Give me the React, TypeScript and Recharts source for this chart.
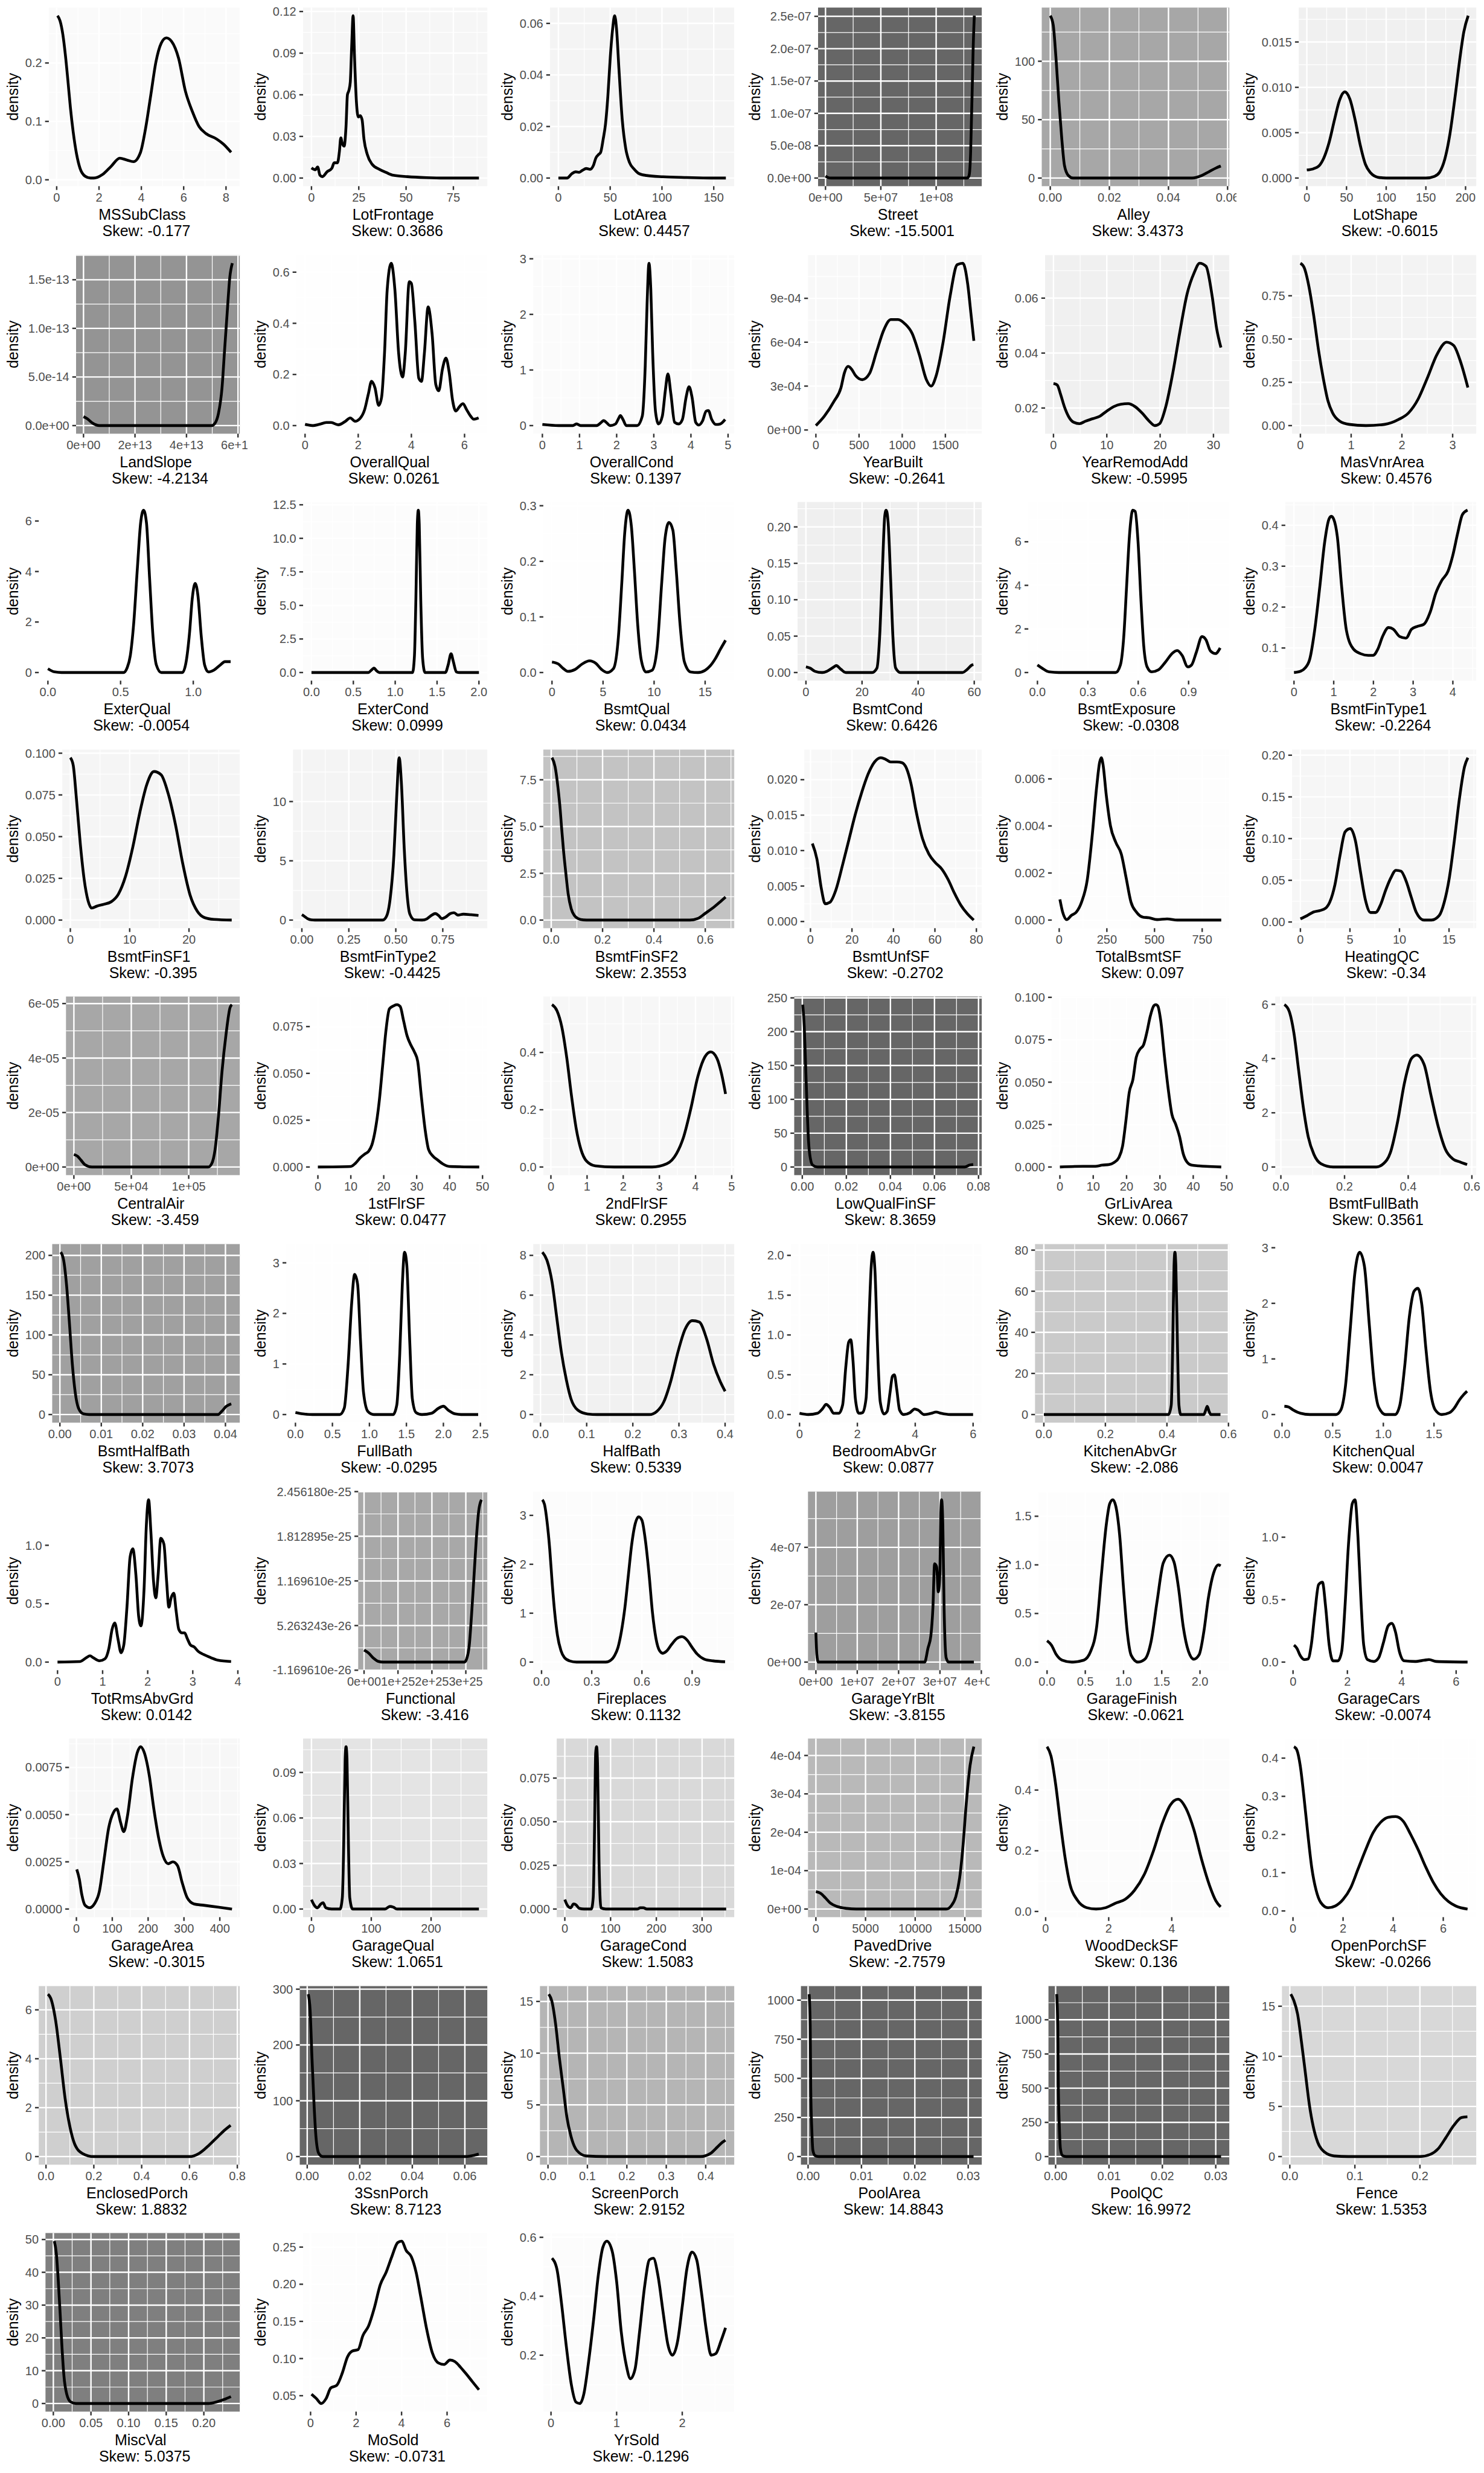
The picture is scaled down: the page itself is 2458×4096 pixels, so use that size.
import React from 'react';
import { LineChart, Line, XAxis, YAxis, CartesianGrid } from 'recharts';

// ---------------- data ----------------
const names = [
  'MSSubClass', 'LotFrontage', 'LotArea', 'Street', 'Alley', 'LotShape',
  'LandSlope', 'OverallQual', 'OverallCond', 'YearBuilt', 'YearRemodAdd', 'MasVnrArea',
  'ExterQual', 'ExterCond', 'BsmtQual', 'BsmtCond', 'BsmtExposure', 'BsmtFinType1',
  'BsmtFinSF1', 'BsmtFinType2', 'BsmtFinSF2', 'BsmtUnfSF', 'TotalBsmtSF', 'HeatingQC',
  'CentralAir', '1stFlrSF', '2ndFlrSF', 'LowQualFinSF', 'GrLivArea', 'BsmtFullBath',
  'BsmtHalfBath', 'FullBath', 'HalfBath', 'BedroomAbvGr', 'KitchenAbvGr', 'KitchenQual',
  'TotRmsAbvGrd', 'Functional', 'Fireplaces', 'GarageYrBlt', 'GarageFinish', 'GarageCars',
  'GarageArea', 'GarageQual', 'GarageCond', 'PavedDrive', 'WoodDeckSF', 'OpenPorchSF',
  'EnclosedPorch', '3SsnPorch', 'ScreenPorch', 'PoolArea', 'PoolQC', 'Fence',
  'MiscVal', 'MoSold', 'YrSold',
];

const skews = [
  '-0.177', '0.3686', '0.4457', '-15.5001', '3.4373', '-0.6015',
  '-4.2134', '0.0261', '0.1397', '-0.2641', '-0.5995', '0.4576',
  '-0.0054', '0.0999', '0.0434', '0.6426', '-0.0308', '-0.2264',
  '-0.395', '-0.4425', '2.3553', '-0.2702', '0.097', '-0.34',
  '-3.459', '0.0477', '0.2955', '8.3659', '0.0667', '0.3561',
  '3.7073', '-0.0295', '0.5339', '0.0877', '-2.086', '0.0047',
  '0.0142', '-3.416', '0.1132', '-3.8155', '-0.0621', '-0.0074',
  '-0.3015', '1.0651', '1.5083', '-2.7579', '0.136', '-0.0266',
  '1.8832', '8.7123', '2.9152', '14.8843', '16.9972', '1.5353',
  '5.0375', '-0.0731', '-0.1296',
];

const xTickLabels = [
  ['0', '2', '4', '6', '8'], ['0', '25', '50', '75'], ['0', '50', '100', '150'],
  ['0e+00', '5e+07', '1e+08'], ['0.00', '0.02', '0.04', '0.06'], ['0', '50', '100', '150', '200'],
  ['0e+00', '2e+13', '4e+13', '6e+13'], ['0', '2', '4', '6'], ['0', '1', '2', '3', '4', '5'],
  ['0', '500', '1000', '1500'], ['0', '10', '20', '30'], ['0', '1', '2', '3'],
  ['0.0', '0.5', '1.0'], ['0.0', '0.5', '1.0', '1.5', '2.0'], ['0', '5', '10', '15'],
  ['0', '20', '40', '60'], ['0.0', '0.3', '0.6', '0.9'], ['0', '1', '2', '3', '4'],
  ['0', '10', '20'], ['0.00', '0.25', '0.50', '0.75'], ['0.0', '0.2', '0.4', '0.6'],
  ['0', '20', '40', '60', '80'], ['0', '250', '500', '750'], ['0', '5', '10', '15'],
  ['0e+00', '5e+04', '1e+05'], ['0', '10', '20', '30', '40', '50'], ['0', '1', '2', '3', '4', '5'],
  ['0.00', '0.02', '0.04', '0.06', '0.08'], ['0', '10', '20', '30', '40', '50'], ['0.0', '0.2', '0.4', '0.6'],
  ['0.00', '0.01', '0.02', '0.03', '0.04'], ['0.0', '0.5', '1.0', '1.5', '2.0', '2.5'], ['0.0', '0.1', '0.2', '0.3', '0.4'],
  ['0', '2', '4', '6'], ['0.0', '0.2', '0.4', '0.6'], ['0.0', '0.5', '1.0', '1.5'],
  ['0', '1', '2', '3', '4'], ['0e+00', '1e+25', '2e+25', '3e+25'], ['0.0', '0.3', '0.6', '0.9'],
  ['0e+00', '1e+07', '2e+07', '3e+07', '4e+07'], ['0.0', '0.5', '1.0', '1.5', '2.0'], ['0', '2', '4', '6'],
  ['0', '100', '200', '300', '400'], ['0', '100', '200'], ['0', '100', '200', '300'],
  ['0', '5000', '10000', '15000'], ['0', '2', '4'], ['0', '2', '4', '6'],
  ['0.0', '0.2', '0.4', '0.6', '0.8'], ['0.00', '0.02', '0.04', '0.06'], ['0.0', '0.1', '0.2', '0.3', '0.4'],
  ['0.00', '0.01', '0.02', '0.03'], ['0.00', '0.01', '0.02', '0.03'], ['0.0', '0.1', '0.2'],
  ['0.00', '0.05', '0.10', '0.15', '0.20'], ['0', '2', '4', '6'], ['0', '1', '2'],
];

const yTickLabels = [
  ['0.0', '0.1', '0.2'], ['0.00', '0.03', '0.06', '0.09', '0.12'], ['0.00', '0.02', '0.04', '0.06'],
  ['0.0e+00', '5.0e-08', '1.0e-07', '1.5e-07', '2.0e-07', '2.5e-07'], ['0', '50', '100'], ['0.000', '0.005', '0.010', '0.015'],
  ['0.0e+00', '5.0e-14', '1.0e-13', '1.5e-13'], ['0.0', '0.2', '0.4', '0.6'], ['0', '1', '2', '3'],
  ['0e+00', '3e-04', '6e-04', '9e-04'], ['0.02', '0.04', '0.06'], ['0.00', '0.25', '0.50', '0.75'],
  ['0', '2', '4', '6'], ['0.0', '2.5', '5.0', '7.5', '10.0', '12.5'], ['0.0', '0.1', '0.2', '0.3'],
  ['0.00', '0.05', '0.10', '0.15', '0.20'], ['0', '2', '4', '6'], ['0.1', '0.2', '0.3', '0.4'],
  ['0.000', '0.025', '0.050', '0.075', '0.100'], ['0', '5', '10'], ['0.0', '2.5', '5.0', '7.5'],
  ['0.000', '0.005', '0.010', '0.015', '0.020'], ['0.000', '0.002', '0.004', '0.006'], ['0.00', '0.05', '0.10', '0.15', '0.20'],
  ['0e+00', '2e-05', '4e-05', '6e-05'], ['0.000', '0.025', '0.050', '0.075'], ['0.0', '0.2', '0.4'],
  ['0', '50', '100', '150', '200', '250'], ['0.000', '0.025', '0.050', '0.075', '0.100'], ['0', '2', '4', '6'],
  ['0', '50', '100', '150', '200'], ['0', '1', '2', '3'], ['0', '2', '4', '6', '8'],
  ['0.0', '0.5', '1.0', '1.5', '2.0'], ['0', '20', '40', '60', '80'], ['0', '1', '2', '3'],
  ['0.0', '0.5', '1.0'], ['-1.169610e-26', '5.263243e-26', '1.169610e-25', '1.812895e-25', '2.456180e-25'], ['0', '1', '2', '3'],
  ['0e+00', '2e-07', '4e-07'], ['0.0', '0.5', '1.0', '1.5'], ['0.0', '0.5', '1.0'],
  ['0.0000', '0.0025', '0.0050', '0.0075'], ['0.00', '0.03', '0.06', '0.09'], ['0.000', '0.025', '0.050', '0.075'],
  ['0e+00', '1e-04', '2e-04', '3e-04', '4e-04'], ['0.0', '0.2', '0.4'], ['0.0', '0.1', '0.2', '0.3', '0.4'],
  ['0', '2', '4', '6'], ['0', '100', '200', '300'], ['0', '5', '10', '15'],
  ['0', '250', '500', '750', '1000'], ['0', '250', '500', '750', '1000'], ['0', '5', '10', '15'],
  ['0', '10', '20', '30', '40', '50'], ['0.05', '0.10', '0.15', '0.20', '0.25'], ['0.2', '0.4', '0.6'],
];

// density curves, [x, density] pairs
const dMSSubClass = [[0.04,0.281],[0.16,0.272],[0.29,0.249],[0.41,0.214],[0.53,0.17],[0.65,0.123],[0.78,0.082],[0.94,0.044],[1.1,0.02],[1.35,0.006],[1.6,0.003],[1.76,0.003],[2.16,0.009],[2.57,0.023],[2.98,0.037],[3.31,0.034],[3.63,0.031],[3.96,0.047],[4.2,0.088],[4.45,0.146],[4.69,0.202],[4.94,0.234],[5.18,0.243],[5.43,0.237],[5.76,0.208],[6.08,0.152],[6.41,0.117],[6.73,0.091],[7.06,0.079],[7.55,0.07],[7.88,0.061],[8.24,0.047]];
const dLotFrontage = [[0,0.0073],[2,0.006],[3.25,0.008],[4.5,0.002],[5.75,0.001],[8.25,0.0045],[10.75,0.007],[12,0.011],[13.75,0.011],[14.75,0.019],[15.5,0.029],[16.25,0.025],[17.25,0.023],[18.25,0.037],[19,0.06],[19.75,0.063],[20.5,0.069],[21.25,0.095],[22,0.117],[22.75,0.087],[23.75,0.055],[24.75,0.044],[25.75,0.045],[26.75,0.042],[27.75,0.028],[29.5,0.017],[32,0.01],[35.75,0.0064],[39.5,0.004],[43.25,0.002],[50.75,0.001],[60.75,0.0003],[70,0],[88.5,0]];
const dLotArea = [[0,0],[8.4,0],[13,0.0017],[16.7,0.0024],[20,0.0022],[23.2,0.003],[26.9,0.0037],[30.6,0.0034],[33.9,0.005],[36.2,0.0078],[38.5,0.009],[40.8,0.01],[43.2,0.015],[45.5,0.021],[47.8,0.032],[50.1,0.047],[52.4,0.058],[54.3,0.063],[56.1,0.058],[58.5,0.042],[61.7,0.0224],[65,0.0115],[68.7,0.006],[73.3,0.0034],[78,0.0017],[85,0.001],[101,0.0005],[124,0.0002],[147.6,0],[161.7,0]];
const dStreet = [[0,3e-9],[2e6,1e-9],[5e6,0],[128e6,0],[129.5e6,2.7e-9],[130.3e6,1.06e-8],[131.1e6,3.7e-8],[131.9e6,9e-8],[132.7e6,1.44e-7],[133.4e6,1.97e-7],[134.5e6,2.51e-7]];
const dAlley = [[0,139],[0.001,131],[0.0019,104],[0.0029,66],[0.0039,33.5],[0.0048,10.8],[0.0061,2.2],[0.0077,0],[0.048,0],[0.0513,2.2],[0.0537,5.4],[0.0561,8.6],[0.0577,10.3]];
const dLotShape = [[0,0.00089],[8.7,0.00104],[15.2,0.00133],[21.7,0.00227],[28.3,0.004],[34.8,0.0064],[41.3,0.0086],[47.8,0.0095],[54.3,0.0087],[60.9,0.0064],[67.4,0.0036],[73.9,0.0015],[80.4,0.00057],[89.1,0.0001],[100,0],[150,0],[160.9,0.00019],[167.4,0.00066],[173.9,0.0021],[180.4,0.0049],[187,0.0091],[193.5,0.0136],[197.8,0.0161],[203.3,0.0179]];
const dLandSlope = [[0,9.2e-15],[0.15e13,7e-15],[0.35e13,2.6e-15],[0.62e13,0],[4.98e13,0],[5.11e13,2.6e-15],[5.24e13,1.24e-14],[5.38e13,3.9e-14],[5.48e13,7.8e-14],[5.58e13,1.16e-13],[5.68e13,1.52e-13],[5.78e13,1.67e-13]];
const dOverallQual = [[0,0.005],[0.27,0],[0.54,0.005],[0.8,0.012],[0.98,0.012],[1.25,0.003],[1.52,0.017],[1.7,0.03],[1.88,0.017],[2.06,0.027],[2.24,0.062],[2.38,0.123],[2.5,0.173],[2.63,0.148],[2.77,0.079],[2.88,0.111],[2.99,0.284],[3.09,0.531],[3.24,0.635],[3.38,0.531],[3.52,0.284],[3.67,0.19],[3.77,0.284],[3.92,0.563],[4.0,0.556],[4.13,0.407],[4.28,0.185],[4.38,0.173],[4.49,0.284],[4.63,0.464],[4.78,0.358],[4.92,0.16],[5.03,0.136],[5.17,0.222],[5.3,0.264],[5.42,0.21],[5.55,0.099],[5.67,0.057],[5.81,0.074],[5.94,0.086],[6.08,0.062],[6.23,0.037],[6.35,0.025],[6.53,0.03]];
const dOverallCond = [[0,0.02],[0.44,0],[0.82,0],[0.92,0.03],[1.03,0],[1.46,0],[1.59,0.06],[1.65,0.09],[1.74,0.045],[1.82,0],[1.97,0.03],[2.05,0.125],[2.1,0.18],[2.17,0.11],[2.26,0],[2.55,0],[2.69,0.17],[2.77,1.08],[2.82,2.2],[2.87,2.92],[2.92,2.44],[2.97,1.31],[3.05,0.23],[3.13,0.03],[3.23,0.17],[3.31,0.625],[3.38,0.93],[3.46,0.57],[3.56,0.06],[3.67,0.03],[3.77,0.11],[3.87,0.51],[3.95,0.7],[4.03,0.51],[4.13,0.057],[4.21,0.01],[4.31,0.08],[4.41,0.26],[4.47,0.27],[4.56,0.11],[4.67,0.02],[4.79,0.03],[4.92,0.11]];
const dYearBuilt = [[0,3e-5],[99,9.5e-5],[209,1.95e-4],[291,2.9e-4],[330,3.9e-4],[374,4.35e-4],[420,4.1e-4],[456,3.75e-4],[538,3.44e-4],[621,3.86e-4],[703,5.35e-4],[786,6.83e-4],[868,7.55e-4],[951,7.55e-4],[1033,7.25e-4],[1115,6.6e-4],[1198,5.15e-4],[1280,3.44e-4],[1335,3.0e-4],[1390,3.65e-4],[1473,5.98e-4],[1555,9.16e-4],[1637,11.3e-4],[1703,11.4e-4],[1758,10e-4],[1797,7.9e-4],[1830,6.1e-4]];
const dYearRemodAdd = [[0,0.0289],[0.7,0.0284],[1.33,0.025],[2.04,0.0205],[2.92,0.0166],[3.8,0.0148],[4.87,0.0143],[6.0,0.0152],[7.35,0.0161],[8.67,0.017],[10,0.0189],[11.3,0.0205],[12.65,0.0214],[14,0.0216],[15.3,0.0205],[16.6,0.0182],[17.96,0.0152],[19,0.0136],[19.9,0.0143],[21.06,0.0205],[22.4,0.033],[23.7,0.0477],[25.04,0.0614],[26.4,0.0693],[27.4,0.0727],[28.6,0.0716],[29.7,0.0614],[30.6,0.0489],[31.4,0.042]];
const dMasVnrArea = [[0,0.938],[0.075,0.912],[0.17,0.8],[0.26,0.64],[0.355,0.44],[0.45,0.274],[0.54,0.146],[0.635,0.073],[0.776,0.0255],[0.96,0.007],[1.29,0],[1.66,0.007],[1.94,0.036],[2.13,0.073],[2.32,0.153],[2.5,0.274],[2.69,0.41],[2.88,0.482],[3.02,0.463],[3.16,0.365],[3.3,0.22]];
const dExterQual = [[0,0.15],[0.046,0.025],[0.094,0],[0.52,0],[0.544,0.175],[0.567,0.675],[0.59,1.93],[0.616,4.18],[0.638,5.93],[0.658,6.43],[0.678,5.93],[0.7,3.68],[0.723,1.43],[0.746,0.3],[0.78,0],[0.925,0],[0.951,0.43],[0.974,1.55],[0.993,2.93],[1.013,3.53],[1.032,3.05],[1.055,1.43],[1.078,0.3],[1.104,0.025],[1.143,0.1],[1.186,0.3],[1.218,0.43],[1.257,0.43]];
const dExterCond = [[0,0],[0.678,0],[0.724,0.23],[0.747,0.33],[0.776,0.14],[0.81,0],[1.207,0],[1.23,1.26],[1.247,5.47],[1.264,11.07],[1.276,12.1],[1.287,11.07],[1.305,5.47],[1.328,1.03],[1.356,0],[1.6,0],[1.632,0.56],[1.667,1.4],[1.695,0.8],[1.73,0.05],[1.77,0],[2.0,0]];
const dBsmtQual = [[0,0.019],[0.61,0.0155],[1.08,0.0077],[1.56,0.002],[2.26,0.0055],[2.97,0.0155],[3.68,0.021],[4.29,0.0166],[4.86,0.0055],[5.42,0],[6.04,0.0077],[6.5,0.063],[6.84,0.162],[7.12,0.25],[7.45,0.292],[7.78,0.262],[8.07,0.184],[8.4,0.085],[8.73,0.024],[9.2,0.001],[9.8,0.004],[10.28,0.041],[10.75,0.162],[11.08,0.242],[11.46,0.27],[11.84,0.256],[12.17,0.184],[12.55,0.085],[12.97,0.019],[13.58,0.001],[14.3,0],[15.0,0.004],[15.5,0.012],[16.0,0.025],[16.5,0.042],[17.0,0.058]];
const dBsmtCond = [[0,0.0078],[1.5,0.006],[3.2,0.0017],[5.8,0],[7.5,0.0017],[10,0.0078],[10.8,0.0096],[12.5,0.0043],[14.2,0],[23.6,0],[25.3,0.006],[26.4,0.058],[27.3,0.145],[28.1,0.215],[28.6,0.223],[29.3,0.206],[30.2,0.128],[31,0.05],[32,0.006],[33.7,0],[55.8,0],[57.5,0.0043],[59.2,0.0104],[59.7,0.011]];
const dBsmtExposure = [[0,0.35],[0.028,0.2],[0.07,0.03],[0.127,0],[0.466,0],[0.494,0.35],[0.514,1.65],[0.531,3.97],[0.548,6.29],[0.568,7.45],[0.582,7.39],[0.599,6.0],[0.616,3.39],[0.633,1.22],[0.653,0.26],[0.68,0.03],[0.72,0.12],[0.763,0.49],[0.805,0.9],[0.833,1.01],[0.862,0.78],[0.895,0.26],[0.918,0.35],[0.946,0.93],[0.98,1.65],[1.003,1.51],[1.03,0.99],[1.06,0.87],[1.088,1.13]];
const dBsmtFinType1 = [[0,0.04],[0.16,0.043],[0.28,0.051],[0.4,0.074],[0.52,0.143],[0.65,0.25],[0.77,0.357],[0.88,0.415],[0.94,0.422],[1.0,0.415],[1.09,0.373],[1.2,0.25],[1.32,0.143],[1.5,0.097],[1.68,0.086],[1.87,0.082],[1.99,0.082],[2.11,0.097],[2.23,0.128],[2.38,0.15],[2.5,0.146],[2.66,0.128],[2.82,0.124],[2.96,0.146],[3.11,0.153],[3.27,0.158],[3.43,0.188],[3.57,0.234],[3.72,0.265],[3.88,0.288],[4.0,0.327],[4.12,0.38],[4.24,0.426],[4.37,0.437]];
const dBsmtFinSF1 = [[0,0.0973],[0.48,0.0928],[1.04,0.072],[1.69,0.0452],[2.33,0.0243],[2.97,0.0118],[3.6,0.0072],[4.5,0.0084],[5.7,0.0095],[6.9,0.011],[8.1,0.0156],[9.3,0.0262],[10.5,0.0433],[11.7,0.0643],[12.9,0.0814],[14.1,0.089],[15.3,0.0871],[16.5,0.0757],[17.75,0.0567],[18.95,0.0338],[20.2,0.0148],[21.4,0.0053],[22.6,0.0015],[24.2,0.0004],[27.2,0]];
const dBsmtFinType2 = [[0,0.45],[0.015,0.3],[0.03,0.12],[0.05,0.02],[0.07,0],[0.43,0],[0.45,0.3],[0.47,1.8],[0.49,5.5],[0.505,10.5],[0.518,13.7],[0.53,11.5],[0.545,6],[0.56,2.2],[0.575,0.5],[0.6,0.02],[0.64,0],[0.665,0.1],[0.69,0.4],[0.71,0.55],[0.73,0.35],[0.745,0.12],[0.765,0.25],[0.79,0.55],[0.81,0.62],[0.83,0.42],[0.86,0.5],[0.9,0.45],[0.94,0.39]];
const dBsmtFinSF2 = [[0.003,8.68],[0.015,8.2],[0.027,7.0],[0.035,5.9],[0.04,5.0],[0.048,3.7],[0.057,2.5],[0.066,1.4],[0.078,0.6],[0.09,0.25],[0.105,0.08],[0.125,0.01],[0.15,0],[0.54,0],[0.57,0.08],[0.6,0.36],[0.637,0.73],[0.66,1.0],[0.679,1.23]];
const dBsmtUnfSF = [[0.9,0.011],[3.1,0.0088],[5.2,0.0047],[7.1,0.0025],[9.3,0.0027],[12.3,0.0045],[15.4,0.0079],[18.5,0.0115],[21.6,0.0151],[24.7,0.0182],[27.8,0.0208],[30.9,0.0225],[33.9,0.0231],[36.1,0.0229],[38.6,0.0225],[41.7,0.0225],[44.1,0.0224],[46.3,0.0216],[48.5,0.0194],[50.9,0.0156],[54,0.0117],[57.1,0.0095],[60.2,0.0083],[63.3,0.0074],[66.4,0.0059],[69.4,0.004],[72.5,0.0023],[75.6,0.0011],[78.7,0.0002]];
const dTotalBsmtSF = [[3.6,0.00088],[18,0.00034],[39,0.00002],[64,0.0002],[90,0.00034],[118,0.00078],[147,0.0017],[172,0.0035],[197,0.0057],[212,0.0067],[221,0.0069],[230,0.0066],[247,0.0053],[269,0.004],[297,0.0033],[326,0.0028],[351,0.0018],[376,0.00078],[405,0.00034],[441,0.00012],[470,0.0001],[513,0.00002],[566,0.00005],[620,0],[850,0]];
const dHeatingQC = [[0,0.0038],[0.67,0.0076],[1.33,0.012],[1.95,0.0136],[2.56,0.0167],[2.97,0.024],[3.49,0.045],[4.0,0.08],[4.51,0.108],[5.03,0.112],[5.54,0.098],[6.05,0.061],[6.56,0.0265],[7.08,0.0114],[7.59,0.0114],[8.1,0.021],[8.6,0.038],[9.13,0.053],[9.64,0.062],[10.15,0.061],[10.67,0.049],[11.18,0.03],[11.7,0.0114],[12.46,0.0023],[13.23,0.0023],[14.0,0.0076],[14.5,0.023],[15.03,0.053],[15.54,0.098],[16.05,0.148],[16.56,0.186],[16.9,0.197]];
const dCentralAir = [[0,4.6e-6],[3.3e3,3.9e-6],[6.2e3,2.5e-6],[9.5e3,0.9e-6],[15.7e3,0],[117e3,0],[120e3,1.2e-6],[123e3,6.5e-6],[126e3,19e-6],[129e3,35e-6],[132.6e3,49e-6],[136e3,58.5e-6],[137.6e3,59.6e-6]];
const d1stFlrSF = [[0,0],[10,0.0003],[11.4,0.002],[12.9,0.005],[14.3,0.007],[15.4,0.0084],[16.4,0.0118],[17.4,0.0195],[18.6,0.0346],[19.7,0.0548],[20.7,0.0733],[21.7,0.0844],[22.9,0.086],[24,0.0867],[25,0.0857],[26,0.0783],[27.1,0.07],[28.3,0.0649],[29.3,0.0615],[30.3,0.0565],[31.4,0.038],[32.6,0.0195],[33.6,0.0094],[35,0.0057],[36.4,0.0037],[37.9,0.0017],[40,0.0003],[49,0]];
const d2ndFlrSF = [[0.03,0.567],[0.17,0.545],[0.3,0.49],[0.44,0.38],[0.57,0.248],[0.7,0.134],[0.83,0.0615],[0.99,0.02],[1.23,0.004],[1.75,0],[2.8,0],[3.2,0.011],[3.47,0.046],[3.67,0.105],[3.87,0.204],[4.06,0.314],[4.26,0.385],[4.42,0.402],[4.59,0.38],[4.72,0.325],[4.83,0.255]];
const dLowQualFinSF = [[0.0002,240],[0.0009,207],[0.0015,151],[0.0022,86],[0.0028,40],[0.0037,12],[0.0047,2.8],[0.0069,0],[0.0737,0],[0.0759,2.8],[0.0776,3.7]];
const dGrLivArea = [[0,0],[7,0.0004],[10.6,0.0004],[12.7,0.0011],[14.8,0.0015],[16.2,0.0026],[17.7,0.0056],[18.8,0.0123],[19.8,0.0272],[20.8,0.044],[21.9,0.0515],[22.9,0.0646],[24,0.0694],[25.1,0.072],[26.1,0.0795],[27.1,0.0888],[28.2,0.0951],[28.8,0.0957],[29.4,0.0948],[30.2,0.0869],[31.4,0.0646],[32.5,0.0459],[33.6,0.031],[34.7,0.0254],[35.9,0.0179],[37,0.0078],[38.1,0.003],[39.5,0.0011],[41.7,0.0007],[43.8,0.0004],[48.4,0]];
const dBsmtFullBath = [[0.011,5.99],[0.026,5.75],[0.041,4.94],[0.056,3.55],[0.071,2.16],[0.086,1.11],[0.104,0.46],[0.126,0.12],[0.164,0],[0.3,0],[0.322,0.12],[0.344,0.53],[0.367,1.69],[0.388,3.09],[0.41,4.0],[0.427,4.13],[0.45,3.78],[0.472,2.62],[0.495,1.46],[0.517,0.65],[0.54,0.3],[0.562,0.19],[0.585,0.09]];
const dBsmtHalfBath = [[0.0002,204],[0.0009,194],[0.0016,163],[0.0023,115],[0.003,63.5],[0.0037,27.8],[0.0045,7.9],[0.0057,0.8],[0.0071,0],[0.0382,0],[0.0391,4],[0.0402,10.3],[0.0414,13.5]];
const dFullBath = [[0,0.04],[0.1,0.013],[0.23,0],[0.6,0],[0.66,0.126],[0.71,0.946],[0.76,2.2],[0.8,2.77],[0.84,2.58],[0.88,1.45],[0.92,0.44],[0.98,0.06],[1.06,0],[1.32,0],[1.37,0.19],[1.41,1.2],[1.445,2.58],[1.475,3.21],[1.505,2.96],[1.545,1.45],[1.58,0.315],[1.63,0.04],[1.71,0],[1.84,0.025],[1.935,0.126],[2.0,0.164],[2.065,0.088],[2.16,0.013],[2.25,0],[2.47,0]];
const dHalfBath = [[0.004,8.16],[0.014,7.75],[0.025,6.65],[0.035,4.9],[0.045,3.16],[0.056,1.74],[0.066,0.79],[0.081,0.22],[0.102,0.03],[0.123,0],[0.236,0],[0.252,0.16],[0.267,0.63],[0.283,1.74],[0.298,3.16],[0.313,4.27],[0.329,4.72],[0.344,4.65],[0.36,3.8],[0.375,2.53],[0.391,1.58],[0.4,1.17]];
const dBedroomAbvGr = [[0,0.016],[0.3,0],[0.62,0.016],[0.79,0.07],[0.92,0.127],[1.05,0.087],[1.18,0.016],[1.36,0.016],[1.49,0.12],[1.6,0.6],[1.7,0.91],[1.77,0.94],[1.85,0.67],[1.93,0.2],[2.05,0.016],[2.18,0.024],[2.3,0.2],[2.39,1.07],[2.48,1.87],[2.54,2.04],[2.61,1.79],[2.69,0.91],[2.79,0.16],[2.92,0.008],[3.03,0.04],[3.13,0.28],[3.21,0.48],[3.28,0.5],[3.36,0.32],[3.46,0.056],[3.6,0],[3.82,0.024],[3.98,0.07],[4.1,0.056],[4.31,0],[4.56,0.016],[4.72,0.032],[4.89,0.016],[5.21,0],[6.0,0]];
const dKitchenAbvGr = [[0,0],[0.405,0],[0.414,4.6],[0.419,35.4],[0.423,72.3],[0.426,79],[0.429,72.3],[0.434,35.4],[0.439,4.6],[0.445,0],[0.52,0],[0.526,2.15],[0.531,4],[0.537,1.5],[0.543,0],[0.574,0]];
const dKitchenQual = [[0.023,0.15],[0.065,0.136],[0.112,0.08],[0.182,0.023],[0.276,0],[0.533,0],[0.58,0.08],[0.626,0.51],[0.673,1.53],[0.72,2.56],[0.766,2.92],[0.813,2.67],[0.86,1.65],[0.907,0.625],[0.953,0.136],[1.023,0],[1.117,0],[1.163,0.17],[1.21,0.85],[1.257,1.76],[1.304,2.22],[1.341,2.27],[1.379,1.99],[1.42,1.19],[1.467,0.4],[1.514,0.08],[1.575,0],[1.654,0.034],[1.7,0.114],[1.75,0.26],[1.794,0.36],[1.827,0.42]];
const dTotRmsAbvGrd = [[0,0],[0.5,0.005],[0.64,0.038],[0.72,0.054],[0.79,0.038],[0.93,0.011],[1.05,0.027],[1.14,0.119],[1.21,0.28],[1.27,0.335],[1.34,0.2],[1.41,0.08],[1.47,0.146],[1.54,0.47],[1.61,0.9],[1.67,0.97],[1.74,0.74],[1.8,0.39],[1.85,0.31],[1.92,0.63],[1.97,1.17],[2.02,1.39],[2.07,1.12],[2.13,0.69],[2.18,0.55],[2.23,0.74],[2.29,1.06],[2.36,1.01],[2.42,0.69],[2.47,0.47],[2.52,0.55],[2.58,0.59],[2.63,0.44],[2.69,0.28],[2.76,0.25],[2.82,0.25],[2.88,0.2],[2.95,0.146],[3.03,0.13],[3.12,0.092],[3.24,0.065],[3.4,0.038],[3.56,0.016],[3.85,0.005]];
const dFunctional = [[0,1.73e-26],[0.14e25,1.28e-26],[0.28e25,0.55e-26],[0.42e25,0.1e-26],[0.56e25,0],[2.96e25,0],[3.03e25,0.55e-26],[3.1e25,2.36e-26],[3.17e25,6.9e-26],[3.24e25,1.23e-25],[3.31e25,1.78e-25],[3.38e25,2.18e-25],[3.46e25,2.3392e-25]];
const dFireplaces = [[0.005,3.32],[0.018,3.22],[0.033,2.87],[0.049,2.31],[0.064,1.6],[0.08,0.97],[0.095,0.55],[0.116,0.235],[0.136,0.095],[0.167,0.025],[0.209,0],[0.384,0],[0.415,0.042],[0.436,0.13],[0.457,0.3],[0.477,0.62],[0.498,1.11],[0.519,1.78],[0.539,2.41],[0.56,2.83],[0.58,2.97],[0.6,2.9],[0.621,2.48],[0.643,1.78],[0.663,1.01],[0.684,0.48],[0.705,0.235],[0.725,0.18],[0.746,0.22],[0.777,0.36],[0.808,0.48],[0.839,0.52],[0.87,0.45],[0.9,0.3],[0.93,0.165],[0.973,0.06],[1.025,0.025],[1.097,0.007]];
const dGarageYrBlt = [[0,10.3e-8],[0.23e6,2.6e-8],[0.58e6,0],[26.3e6,0],[27.1e6,4.8e-8],[27.8e6,9.2e-8],[28.3e6,19e-8],[28.7e6,34.3e-8],[29.2e6,33.2e-8],[29.6e6,24.5e-8],[30e6,32e-8],[30.2e6,51.7e-8],[30.4e6,56.6e-8],[30.7e6,47.4e-8],[31e6,19e-8],[31.5e6,1.5e-8],[32.1e6,0],[38.2e6,0]];
const dGarageFinish = [[0,0.22],[0.057,0.175],[0.12,0.078],[0.195,0.02],[0.32,0],[0.48,0.02],[0.57,0.11],[0.65,0.37],[0.71,0.89],[0.774,1.41],[0.82,1.63],[0.86,1.67],[0.9,1.6],[0.95,1.3],[1.0,0.76],[1.05,0.3],[1.1,0.07],[1.19,0],[1.28,0.03],[1.36,0.21],[1.44,0.63],[1.52,1.02],[1.6,1.1],[1.66,1.03],[1.72,0.76],[1.78,0.37],[1.85,0.11],[1.92,0.03],[1.99,0.078],[2.05,0.31],[2.11,0.66],[2.18,0.92],[2.24,1.0],[2.27,0.99]];
const dGarageCars = [[0.035,0.136],[0.14,0.111],[0.27,0.05],[0.41,0.02],[0.55,0.025],[0.67,0.136],[0.8,0.39],[0.94,0.62],[1.08,0.64],[1.2,0.44],[1.33,0.136],[1.47,0.01],[1.65,0.01],[1.79,0.086],[1.91,0.44],[2.04,0.944],[2.18,1.27],[2.28,1.3],[2.39,0.995],[2.5,0.49],[2.6,0.136],[2.74,0.02],[2.97,0.005],[3.15,0.035],[3.33,0.16],[3.5,0.29],[3.63,0.31],[3.77,0.24],[3.91,0.086],[4.09,0.01],[4.48,0.005],[4.83,0.015],[5.0,0.02],[5.27,0.005],[6.42,0]];
const dGarageArea = [[1,0.0021],[8,0.0016],[15,0.00077],[24,0.0002],[37,0.00007],[50,0.00027],[64,0.00093],[77,0.0026],[90,0.0043],[103,0.0051],[113,0.0053],[123,0.0046],[132,0.0041],[143,0.005],[156,0.0069],[170,0.0083],[179,0.0086],[189,0.0083],[203,0.0071],[216,0.0053],[229,0.0038],[242,0.0028],[256,0.0024],[269,0.0025],[282,0.0023],[295,0.0014],[309,0.0006],[328,0.00027],[355,0.0002],[395,0.0001],[434,0]];
const dGarageQual = [[0,0.0062],[4.7,0.0025],[10,0.0008],[15.6,0.0033],[19.5,0.0041],[24,0.0008],[33.6,0],[47.7,0],[51.6,0.0075],[54,0.0448],[56.3,0.0988],[57.8,0.107],[59.4,0.0988],[61.7,0.0448],[64,0.0075],[68.8,0],[123,0],[131,0.0017],[137,0.0012],[143,0],[280,0]];
const dGarageCond = [[0,0.0054],[5.3,0.0022],[12.6,0.0007],[19,0.0029],[24,0.0025],[31.6,0.0004],[42,0],[58,0],[62,0.0065],[65,0.046],[67.4,0.0895],[69.5,0.093],[71.6,0.082],[74.7,0.028],[79,0.0007],[89.5,0],[158,0],[165,0.0007],[171.6,0.0007],[179,0],[352.6,0]];
const dPavedDrive = [[0,0.455e-4],[478,0.41e-4],[956,0.29e-4],[1433,0.16e-4],[2150,0.065e-4],[3105,0.016e-4],[4061,0],[13140,0],[13617,0.08e-4],[14095,0.325e-4],[14477,0.81e-4],[14811,1.63e-4],[15146,2.76e-4],[15528,3.74e-4],[15910,4.23e-4]];
const dWoodDeckSF = [[0.045,0.543],[0.17,0.512],[0.32,0.417],[0.47,0.29],[0.62,0.175],[0.77,0.09],[1.0,0.038],[1.3,0.0126],[1.6,0.008],[1.91,0.0126],[2.21,0.027],[2.52,0.04],[2.82,0.07],[3.12,0.12],[3.42,0.2],[3.7,0.29],[3.95,0.35],[4.2,0.37],[4.45,0.34],[4.7,0.27],[4.95,0.17],[5.2,0.085],[5.4,0.035],[5.55,0.015]];
const dOpenPorchSF = [[0.04,0.43],[0.15,0.422],[0.29,0.38],[0.44,0.297],[0.6,0.197],[0.75,0.113],[0.92,0.055],[1.11,0.022],[1.4,0.0083],[1.69,0.013],[2.0,0.03],[2.3,0.06],[2.6,0.11],[2.9,0.16],[3.2,0.205],[3.5,0.232],[3.8,0.245],[4.1,0.247],[4.4,0.235],[4.7,0.2],[5.0,0.16],[5.3,0.115],[5.6,0.075],[5.9,0.045],[6.2,0.025],[6.5,0.013],[6.97,0.005]];
const dEnclosedPorch = [[0.008,6.64],[0.02,6.47],[0.04,5.58],[0.06,4.04],[0.08,2.37],[0.1,1.22],[0.12,0.51],[0.152,0.13],[0.2,0],[0.6,0],[0.64,0.13],[0.68,0.45],[0.72,0.83],[0.748,1.09],[0.772,1.28]];
const d3SsnPorch = [[0.0004,291],[0.0011,263],[0.0018,178],[0.0026,93],[0.0033,37],[0.0044,5.6],[0.0059,0],[0.0605,0],[0.063,1.7],[0.0653,4.5]];
const dScreenPorch = [[0.002,15.7],[0.01,15],[0.019,12.9],[0.029,9.5],[0.039,6.5],[0.048,3.8],[0.058,2.0],[0.073,0.6],[0.097,0.06],[0.145,0],[0.387,0],[0.412,0.3],[0.429,0.9],[0.443,1.4],[0.45,1.58]];
const dPoolArea = [[0.0002,1038],[0.0004,837],[0.0005,433],[0.0007,171],[0.0009,40],[0.0013,6],[0.002,0],[0.031,0]];
const dPoolQC = [[0.0002,1187],[0.0004,956],[0.0005,541],[0.0007,219],[0.0009,58],[0.0013,7],[0.002,0],[0.031,0]];
const dFence = [[0.0015,16.2],[0.006,15.6],[0.012,14.2],[0.018,11.4],[0.024,8.3],[0.03,5.2],[0.036,3.0],[0.043,1.4],[0.053,0.47],[0.068,0.06],[0.09,0],[0.2,0],[0.216,0.22],[0.228,0.78],[0.24,1.9],[0.252,3.1],[0.264,3.9],[0.273,3.97]];
const dMiscVal = [[0.0013,49.5],[0.004,45.7],[0.0064,38],[0.009,27.6],[0.0115,17.1],[0.014,8.6],[0.0178,2.86],[0.023,0.48],[0.03,0],[0.206,0],[0.217,0.48],[0.227,1.24],[0.236,2.1]];
const dMoSold = [[0.04,0.052],[0.26,0.046],[0.47,0.0395],[0.68,0.046],[0.89,0.0605],[1.15,0.064],[1.4,0.081],[1.62,0.102],[1.83,0.11],[2.09,0.112],[2.3,0.131],[2.55,0.144],[2.81,0.169],[3.06,0.199],[3.32,0.216],[3.57,0.237],[3.83,0.256],[4.0,0.258],[4.21,0.245],[4.43,0.237],[4.64,0.216],[4.85,0.182],[5.1,0.14],[5.36,0.107],[5.62,0.094],[5.87,0.092],[6.13,0.098],[6.34,0.096],[6.6,0.088],[6.85,0.079],[7.11,0.069],[7.4,0.058]];
const dYrSold = [[0.015,0.529],[0.09,0.492],[0.16,0.376],[0.235,0.227],[0.31,0.1],[0.38,0.041],[0.44,0.036],[0.5,0.068],[0.57,0.173],[0.65,0.322],[0.72,0.47],[0.79,0.566],[0.85,0.587],[0.93,0.555],[1.0,0.45],[1.07,0.28],[1.15,0.163],[1.21,0.12],[1.28,0.152],[1.35,0.28],[1.43,0.439],[1.5,0.524],[1.56,0.529],[1.63,0.47],[1.71,0.343],[1.78,0.237],[1.85,0.2],[1.93,0.248],[2.0,0.365],[2.07,0.492],[2.15,0.55],[2.22,0.524],[2.29,0.418],[2.37,0.28],[2.44,0.2],[2.51,0.205],[2.59,0.248],[2.66,0.293]];

const curves = [
  dMSSubClass, dLotFrontage, dLotArea, dStreet, dAlley, dLotShape,
  dLandSlope, dOverallQual, dOverallCond, dYearBuilt, dYearRemodAdd, dMasVnrArea,
  dExterQual, dExterCond, dBsmtQual, dBsmtCond, dBsmtExposure, dBsmtFinType1,
  dBsmtFinSF1, dBsmtFinType2, dBsmtFinSF2, dBsmtUnfSF, dTotalBsmtSF, dHeatingQC,
  dCentralAir, d1stFlrSF, d2ndFlrSF, dLowQualFinSF, dGrLivArea, dBsmtFullBath,
  dBsmtHalfBath, dFullBath, dHalfBath, dBedroomAbvGr, dKitchenAbvGr, dKitchenQual,
  dTotRmsAbvGrd, dFunctional, dFireplaces, dGarageYrBlt, dGarageFinish, dGarageCars,
  dGarageArea, dGarageQual, dGarageCond, dPavedDrive, dWoodDeckSF, dOpenPorchSF,
  dEnclosedPorch, d3SsnPorch, dScreenPorch, dPoolArea, dPoolQC, dFence,
  dMiscVal, dMoSold, dYrSold,
];

// ---------------- layout / style ----------------
const W = 2458;
const H = 4096;
const S = W / 2880;
const CW = W / 6;
const CH = H / 10;
const M = 14.67 * S;
const FONT = '"Liberation Sans", Arial, Helvetica, sans-serif';
const TICK_FS = 23.47 * S;
const TITLE_FS = 29.33 * S;
const TICK_LEN = 7.33 * S;
const TICK_GAP = 5.87 * S;
const PANEL_BOTTOM = 361.3 * S;
const X_AXIS_H = CH - M - PANEL_BOTTOM;
const Y_TITLE_BLOCK = (62.2 - 14.67) * S;
const MAJOR_W = 2.43;
const MINOR_W = 1.21;
const LINE_W = 4.6;

let measureCtx: CanvasRenderingContext2D | null = null;
function textWidth(s: string, fs: number): number {
  if (!measureCtx) {
    const c = document.createElement('canvas');
    measureCtx = c.getContext('2d');
  }
  if (!measureCtx) return s.length * fs * 0.556;
  measureCtx.font = `${fs}px ${FONT}`;
  return measureCtx.measureText(s).width;
}

function minorBreaks(ticks: number[], lo: number, hi: number): number[] {
  const t = [...ticks].sort((a, b) => a - b);
  if (t.length < 2) return [];
  const step = t[1] - t[0];
  const out: number[] = [];
  out.push(t[0] - step / 2);
  for (let i = 0; i < t.length; i++) out.push(t[i] + step / 2);
  return out.filter((v) => v > lo && v < hi);
}

function Panel({ idx }: { idx: number }) {
  const pts = curves[idx];
  const xs = pts.map((p) => p[0]);
  const ys = pts.map((p) => p[1]);
  const x0 = Math.min(...xs), x1 = Math.max(...xs);
  const y0 = Math.min(...ys), y1 = Math.max(...ys);
  const xlo = x0 - 0.05 * (x1 - x0), xhi = x1 + 0.05 * (x1 - x0);
  const ylo = y0 - 0.05 * (y1 - y0), yhi = y1 + 0.05 * (y1 - y0);
  const data = pts.map(([x, y]) => ({ x, y }));

  const xl = xTickLabels[idx];
  const yl = yTickLabels[idx];
  const xt = xl.map(Number);
  const yt = yl.map(Number);
  const xFmt = (v: number) => {
    const k = xt.findIndex((t) => Math.abs(t - v) <= Math.abs(t) * 1e-9 + 1e-300);
    return k >= 0 ? xl[k] : String(v);
  };
  const yFmt = (v: number) => {
    const k = yt.findIndex((t) => Math.abs(t - v) <= Math.abs(t) * 1e-9 + 1e-300);
    return k >= 0 ? yl[k] : String(v);
  };

  const labelW = Math.max(...yl.map((s) => textWidth(s, TICK_FS)));
  const yw = Y_TITLE_BLOCK + labelW;

  const sk = Math.abs(Number(skews[idx]));
  const g = Math.round(255 * (1 - Math.min(sk / 10, 0.6)));
  const bg = `rgb(${g},${g},${g})`;

  const col = idx % 6;
  const row = Math.floor(idx / 6);
  const plotLeft = M + yw;
  const plotRight = CW - M;
  const cx = (plotLeft + plotRight) / 2;
  const cy = (M + PANEL_BOTTOM) / 2;
  const halfSpace = 0.278 * TITLE_FS / 2;

  const tickStyle = { fill: '#4D4D4D', fontSize: TICK_FS, fontFamily: FONT };
  const tickLine = { stroke: '#333333', strokeWidth: MAJOR_W };

  return (
    <div
      style={{
        position: 'absolute',
        left: col * CW,
        top: row * CH,
        width: CW,
        height: CH,
        overflow: 'hidden',
      }}
    >
      <LineChart width={CW} height={CH} data={data} margin={{ top: M, right: M, bottom: M, left: M }}>
        <CartesianGrid
          fill={bg}
          fillOpacity={1}
          stroke="#FFFFFF"
          strokeWidth={MINOR_W}
          verticalValues={minorBreaks(xt, xlo, xhi)}
          horizontalValues={minorBreaks(yt, ylo, yhi)}
        />
        <CartesianGrid stroke="#FFFFFF" strokeWidth={MAJOR_W} verticalValues={xt} horizontalValues={yt} />
        <XAxis
          type="number"
          dataKey="x"
          domain={[xlo, xhi]}
          allowDataOverflow
          ticks={xt}
          interval={0}
          tickFormatter={xFmt}
          tick={tickStyle}
          tickLine={tickLine}
          axisLine={false}
          tickSize={TICK_LEN}
          tickMargin={TICK_GAP}
          height={X_AXIS_H}
        />
        <YAxis
          type="number"
          dataKey="y"
          domain={[ylo, yhi]}
          allowDataOverflow
          ticks={yt}
          interval={0}
          tickFormatter={yFmt}
          tick={tickStyle}
          tickLine={tickLine}
          axisLine={false}
          tickSize={TICK_LEN}
          tickMargin={TICK_GAP}
          width={yw}
        />
        <Line
          type="monotone"
          dataKey="y"
          stroke="#000000"
          strokeWidth={LINE_W}
          strokeLinejoin="round"
          dot={false}
          activeDot={false}
          isAnimationActive={false}
        />
      </LineChart>
      <svg
        width={CW}
        height={CH}
        style={{ position: 'absolute', left: 0, top: 0, pointerEvents: 'none' }}
      >
        <text
          x={35 * S}
          y={cy}
          transform={`rotate(-90, ${35 * S}, ${cy})`}
          textAnchor="middle"
          fontFamily={FONT}
          fontSize={TITLE_FS}
          fill="#000000"
        >
          density
        </text>
        <text x={cx - halfSpace} y={427 * S} textAnchor="middle" fontFamily={FONT} fontSize={TITLE_FS} fill="#000000">
          {names[idx]}
        </text>
        <text x={cx + halfSpace} y={458.3 * S} textAnchor="middle" fontFamily={FONT} fontSize={TITLE_FS} fill="#000000">
          {`Skew: ${skews[idx]}`}
        </text>
      </svg>
    </div>
  );
}

export default function App() {
  return (
    <div
      style={{
        position: 'absolute',
        left: 0,
        top: 0,
        width: W,
        height: H,
        background: '#FFFFFF',
        overflow: 'hidden',
      }}
    >
      {names.map((n, i) => (
        <Panel key={n} idx={i} />
      ))}
    </div>
  );
}
